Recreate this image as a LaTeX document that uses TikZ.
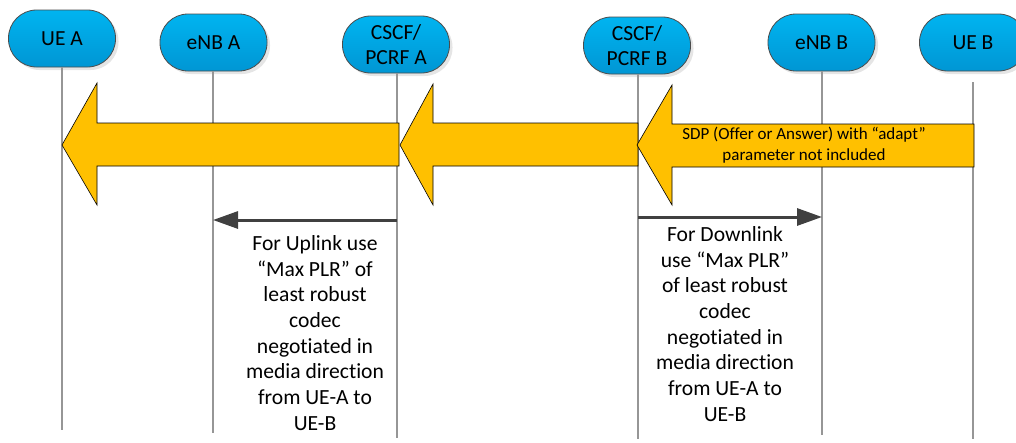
\documentclass[tikz,border=0pt]{standalone}
\usepackage{fontspec}
\setmainfont[Ligatures=CommonOff]{Carlito}
\usetikzlibrary{arrows.meta,shadows}
\definecolor{entitytop}{RGB}{0,180,240}
\definecolor{entitybot}{RGB}{0,150,212}
\definecolor{blockfill}{RGB}{255,192,0}
\definecolor{lifegray}{RGB}{150,150,150}
\definecolor{flowgray}{RGB}{64,64,64}
\tikzset{
  entity/.style={draw=black!70, line width=0.8pt, rounded corners=28pt,
    top color=entitytop, bottom color=entitybot,
    minimum width=107pt, minimum height=57pt, inner sep=0pt, align=center,
    font=\fontsize{21.5}{25}\selectfont,
    drop shadow={opacity=0.2, shadow xshift=3pt, shadow yshift=-3pt}},
  lifeline/.style={draw=lifegray, line width=1.2pt},
  blockarrow/.style={fill=blockfill, draw=black, line width=0.6pt, line join=miter},
  flow/.style={draw=flowgray, line width=3pt, -{Triangle[length=25pt,width=17pt]}},
  notetext/.style={align=center, inner sep=0pt, font=\fontsize{21.6}{25.7}\selectfont},
  sdptext/.style={align=center, inner sep=0pt, font=\fontsize{17}{21}\selectfont},
}
\begin{document}
\begin{tikzpicture}[x=1pt,y=-1pt]
\useasboundingbox[fill=white] (0,0) rectangle (1016,442);

% entities
\node[entity] (UEA)   at (62,38.5)   {UE A};
\node[entity] (ENBA)  at (213.5,42.5) {eNB A};
\node[entity] (CSCFA) at (396,44.5)  {CSCF/\\PCRF A};
\node[entity] (CSCFB) at (637,45.5)  {CSCF/\\PCRF B};
\node[entity] (ENBB)  at (821.5,42.5) {eNB B};
\node[entity] (UEB)   at (973,42.5)  {UE B};

% lifeline ends
\coordinate (UEAend)   at (62,430);
\coordinate (ENBAend)  at (213,433);
\coordinate (CSCFAend) at (397,438);
\coordinate (CSCFBend) at (638,439);
\coordinate (ENBBend)  at (822,435);
\coordinate (UEBend)   at (973,439);

\draw[lifeline] (UEA.south -| UEAend) -- (UEAend);
\draw[lifeline] (ENBA.south -| ENBAend) -- (ENBAend);
\draw[lifeline] (CSCFA.south -| CSCFAend) -- (CSCFAend);
\draw[lifeline] (CSCFB.south -| CSCFBend) -- (CSCFBend);
\draw[lifeline] (ENBB.south -| ENBBend) -- (ENBBend);
\draw[lifeline] ([yshift=-11pt]UEB.south -| UEBend) -- (UEBend);

% SDP block arrows
\draw[blockarrow] (62,145) -- (97,83) -- (97,123) -- (399,123) -- (399,166) -- (97,166) -- (97,205) -- cycle;
\draw[blockarrow] (400,145) -- (433,84) -- (433,123) -- (638,123) -- (638,166) -- (433,166) -- (433,205) -- cycle;
\draw[blockarrow] (637,145) -- (672,85) -- (672,124) -- (974,124) -- (974,167) -- (672,167) -- (672,205) -- cycle;
\node[sdptext] (sdp) at (804,145) {SDP (Offer or Answer) with “adapt”\\parameter not included};

% uplink / downlink flows
\coordinate (ulstart) at (397,220);
\coordinate (ulend)   at (213,220);
\coordinate (dlstart) at (638,217);
\coordinate (dlend)   at (822,217);
\draw[flow] (ulstart) -- (ulend);
\draw[flow] (dlstart) -- (dlend);

\node[notetext] (ulnote) at (315,333) {For Uplink use\\“Max PLR” of\\least robust\\codec\\negotiated in\\media direction\\from UE-A to\\UE-B};
\node[notetext] (dlnote) at (725,324) {For Downlink\\use “Max PLR”\\of least robust\\codec\\negotiated in\\media direction\\from UE-A to\\UE-B};
\end{tikzpicture}
\end{document}
